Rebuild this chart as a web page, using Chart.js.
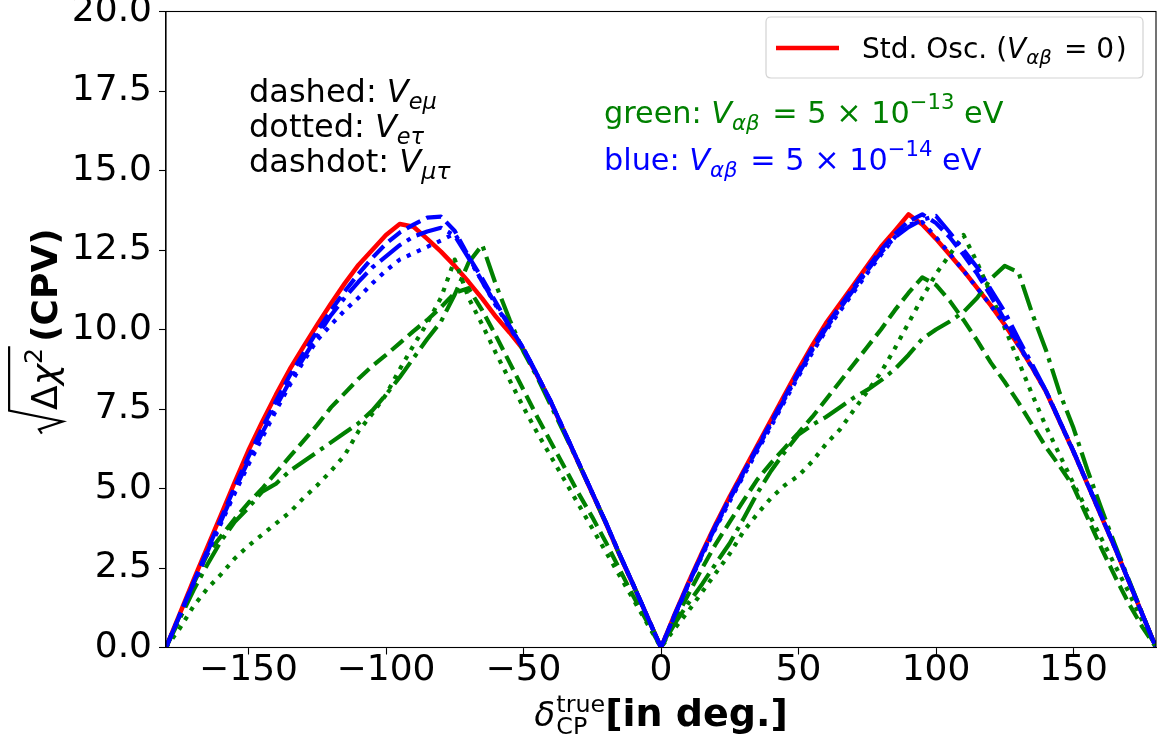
<!DOCTYPE html>
<html><head><meta charset="utf-8">
<script src="https://cdn.jsdelivr.net/npm/chart.js@4/dist/chart.umd.min.js"></script>
<style>html,body{margin:0;padding:0;background:#fff}#wrap{width:1163px;height:740px;position:relative}</style>
</head><body><div id="wrap"><canvas id="c"></canvas></div>
<script>
const deltaCP = [-180,-175,-170,-165,-160,-155,-150,-145,-140,-135,-130,-125,-120,-115,-110,-105,-100,-95,-90,-85,-80,-75,-70,-65,-60,-55,-50,-45,-40,-35,-30,-25,-20,-15,-10,-5,0,
5,10,15,20,25,30,35,40,45,50,55,60,65,70,75,80,85,90,95,100,105,110,115,120,125,130,135,140,145,150,155,160,165,170,175,180];

const stdOsc = [0,1.06,2.12,3.15,4.17,5.2,6.2,7.1,7.95,8.75,9.46,10.15,10.82,11.45,12.03,12.5,12.97,13.32,13.23,12.85,12.45,12.0,11.5,10.97,10.4,9.9,9.36,8.55,7.7,6.75,5.8,4.85,3.9,2.9,1.95,0.97,0,
1.05,2.05,3.0,3.9,4.75,5.55,6.35,7.15,7.95,8.75,9.5,10.2,10.8,11.4,12.0,12.6,13.1,13.62,13.3,12.85,12.35,11.85,11.3,10.75,10.15,9.5,8.8,8.05,7.1,6.15,5.15,4.15,3.15,2.1,1.05,0];

// green: V = 5e-13 eV
const emuGreen = [0,1.0,2.0,2.93,3.5,4.05,4.55,5.0,5.5,6.0,6.5,7.0,7.55,8.0,8.45,8.85,9.2,9.57,9.95,10.3,10.7,11.15,11.3,10.6,9.8,8.95,8.1,7.25,6.45,5.65,4.85,4.1,3.3,2.45,1.6,0.8,0,
0.85,1.68,2.5,3.27,3.95,4.62,5.28,5.8,6.28,6.75,7.25,7.8,8.35,8.9,9.45,10.0,10.6,11.15,11.64,11.4,10.9,10.3,9.65,8.95,8.35,7.7,7.0,6.3,5.7,5.05,4.1,3.15,2.25,1.4,0.65,0];
const etauGreen = [0,0.6,1.3,1.85,2.3,2.8,3.2,3.55,3.9,4.25,4.7,5.1,5.55,6.05,6.8,7.35,7.95,8.75,9.5,10.2,11.0,12.2,11.0,10.15,9.25,8.4,7.55,6.75,6.0,5.25,4.5,3.75,3.0,2.25,1.5,0.75,0,
0.6,1.15,1.75,2.35,2.95,3.65,4.2,4.7,5.1,5.4,5.85,6.4,6.85,7.45,8.05,8.65,9.4,10.2,11.0,11.75,12.35,12.97,12.1,11.1,10.05,9.0,7.95,6.95,6.05,5.15,4.3,3.45,2.6,1.75,0.85,0];
const mutauGreen = [0,0.9,1.8,2.6,3.35,3.95,4.4,4.9,5.15,5.55,5.85,6.15,6.45,6.75,7.05,7.45,7.95,8.5,9.1,9.7,10.25,11.1,12.1,12.66,11.4,10.3,9.3,8.5,7.6,6.7,5.8,4.85,3.9,2.9,1.95,0.97,0,
0.75,1.4,2.0,2.65,3.28,4.05,4.85,5.55,6.15,6.7,7.0,7.25,7.55,7.85,8.1,8.4,8.75,9.2,9.7,10.0,10.25,10.55,11.0,11.6,12.0,11.8,10.5,9.35,8.0,6.9,5.6,4.4,3.25,2.15,1.07,0];

// blue: V = 5e-14 eV
const emuBlue = [0,1.02,2.05,3.05,4.05,5.05,6.0,6.9,7.75,8.55,9.25,9.95,10.6,11.2,11.75,12.25,12.7,13.05,13.3,13.52,13.55,13.1,12.3,11.6,10.85,10.1,9.4,8.57,7.72,6.77,5.82,4.87,3.92,2.92,1.96,0.98,0,
1.03,2.02,2.96,3.86,4.7,5.5,6.3,7.08,7.88,8.67,9.42,10.1,10.72,11.32,11.92,12.5,13.0,13.4,13.62,13.35,12.9,12.35,11.75,11.05,10.3,9.55,8.82,8.07,7.12,6.17,5.17,4.17,3.16,2.11,1.05,0];
const etauBlue = [0,1.0,2.0,2.95,3.9,4.85,5.75,6.6,7.45,8.25,9.0,9.67,10.15,10.6,11.0,11.45,11.85,12.2,12.4,12.6,12.8,13.02,12.3,11.5,10.75,10.05,9.4,8.57,7.72,6.77,5.82,4.87,3.92,2.92,1.96,0.98,0,
1.0,1.97,2.9,3.78,4.6,5.4,6.18,6.95,7.75,8.53,9.27,9.97,10.57,11.17,11.77,12.35,12.9,13.3,13.38,12.9,12.38,11.85,11.3,10.75,10.15,9.5,8.8,8.05,7.1,6.15,5.15,4.15,3.15,2.1,1.05,0];
const mutauBlue = [0,1.02,2.02,3.0,3.97,4.95,5.88,6.75,7.57,8.37,9.1,9.8,10.45,11.0,11.5,11.95,12.3,12.65,12.92,13.08,13.2,12.95,12.25,11.5,10.78,10.08,9.4,8.57,7.72,6.77,5.82,4.87,3.92,2.92,1.96,0.98,0,
1.03,2.0,2.94,3.83,4.66,5.46,6.25,7.02,7.82,8.6,9.35,10.03,10.65,11.25,11.85,12.42,12.9,13.22,13.45,13.57,13.05,12.5,11.95,11.25,10.55,9.7,8.9,8.07,7.12,6.17,5.17,4.17,3.16,2.11,1.05,0];

const xTicks = [-150,-100,-50,0,50,100,150];
const yTicks = [0,2.5,5,7.5,10,12.5,15,17.5,20];

const FF = '"DejaVu Sans"';
const pts = arr => deltaCP.map((x,i)=>({x:x, y:arr[i]}));
const LW = 4.2;
const DASHED = [15.5,6.7], DOTTED = [4.2,6.9], DASHDOT = [26.9,6.7,4.2,6.7];

function fnt(st, size){ return (st||'') + ' ' + size + 'px ' + FF; }
function measureRuns(ctx, runs, base){
  let x = 0, prevStart = 0, prevW = 0;
  for (const r of runs){
    const sz = base*(r.sc||1);
    ctx.font = fnt(r.st, sz);
    const w = ctx.measureText(r.t).width;
    if (r.stack){ r._x = prevStart; x = prevStart + Math.max(prevW, w); }
    else { r._x = x + (r.pre||0)*base; prevStart = r._x; prevW = w; x = r._x + w; }
    r._w = w; r._sz = sz;
  }
  return x;
}
function drawRuns(ctx, runs, x, y, base, color){
  const W = measureRuns(ctx, runs, base);
  ctx.fillStyle = color; ctx.textBaseline = 'alphabetic'; ctx.textAlign = 'left';
  for (const r of runs){
    ctx.font = fnt(r.st, r._sz);
    ctx.fillText(r.t, x + r._x, y + (r.dy||0)*base);
  }
  return W;
}

const decor = {
  id:'decor',
  afterDraw(chart){
    const ctx = chart.ctx, a = chart.chartArea;
    ctx.save();
    // frame
    ctx.strokeStyle = '#000'; ctx.lineWidth = 1.1;
    ctx.strokeRect(a.left, a.top, a.right-a.left, a.bottom-a.top);

    // legend
    const lx=766, ly=17, lw=377, lh=61, rr=5;
    ctx.beginPath();
    ctx.moveTo(lx+rr,ly); ctx.lineTo(lx+lw-rr,ly); ctx.quadraticCurveTo(lx+lw,ly,lx+lw,ly+rr);
    ctx.lineTo(lx+lw,ly+lh-rr); ctx.quadraticCurveTo(lx+lw,ly+lh,lx+lw-rr,ly+lh);
    ctx.lineTo(lx+rr,ly+lh); ctx.quadraticCurveTo(lx,ly+lh,lx,ly+lh-rr);
    ctx.lineTo(lx,ly+rr); ctx.quadraticCurveTo(lx,ly,lx+rr,ly); ctx.closePath();
    ctx.fillStyle='rgba(255,255,255,0.8)'; ctx.fill();
    ctx.strokeStyle='#d3d3d3'; ctx.lineWidth=1.2; ctx.stroke();
    ctx.beginPath(); ctx.moveTo(776,48); ctx.lineTo(839,48);
    ctx.strokeStyle='#ff0000'; ctx.lineWidth=4.5; ctx.stroke();
    drawRuns(ctx, [{t:'Std. Osc. ('},{t:'V',st:'italic'},{t:'αβ',st:'italic',sc:0.7,dy:0.22},{t:' = 0',pre:0.12},{t:')',pre:0.06}], 862, 58, 28, '#000');

    // annotations
    const af = 32;
    drawRuns(ctx, [{t:'dashed: '},{t:'V',st:'italic'},{t:'eμ',st:'italic',sc:0.7,dy:0.22}], 249, 102, af, '#000');
    drawRuns(ctx, [{t:'dotted: '},{t:'V',st:'italic'},{t:'eτ',st:'italic',sc:0.7,dy:0.22}], 249, 137, af, '#000');
    drawRuns(ctx, [{t:'dashdot: '},{t:'V',st:'italic'},{t:'μτ',st:'italic',sc:0.74,dy:0.22}], 249, 172, af, '#000');
    const valRuns = (lab, exp) => [{t:lab},{t:'V',st:'italic'},{t:'αβ',st:'italic',sc:0.7,dy:0.22},{t:' = 5 × 10',pre:0.1},{t:exp,sc:0.7,dy:-0.45},{t:' eV'}];
    drawRuns(ctx, valRuns('green: ','−13'), 604, 123, 30.3, '#008000');
    drawRuns(ctx, valRuns('blue: ','−14'), 604, 170, 30.3, '#0000ff');

    // x title
    const xr = [{t:'δ',st:'italic'},{t:'CP',sc:0.7,dy:0.24,pre:0.04},{t:'true',sc:0.7,dy:-0.42,stack:true},{t:'[in deg.]',st:'bold',sc:38/34}];
    const xw = measureRuns(ctx, xr, 34);
    drawRuns(ctx, xr, 661 - xw/2, 726, 34, '#000');

    // y title (rotated)
    const fs = 36;
    const cont = [{t:'Δ'},{t:'χ',st:'italic'},{t:'2',sc:0.7,dy:-0.42}];
    const cw = measureRuns(ctx, cont, fs);
    ctx.font = fnt('bold', fs);
    const cpvW = ctx.measureText('(CPV)').width;
    const radW = 0.66*fs;
    const W = radW + cw + 0.05*fs + 0.12*fs + cpvW;
    ctx.translate(57, 331 + W/2);
    ctx.rotate(-Math.PI/2);
    ctx.strokeStyle='#000'; ctx.lineWidth = 2.2; ctx.lineJoin='miter';
    ctx.beginPath();
    ctx.moveTo(0.0*fs, -0.42*fs); ctx.lineTo(0.12*fs, -0.50*fs);
    ctx.lineTo(0.34*fs, 0.16*fs); ctx.lineTo(radW-0.02*fs, -1.33*fs);
    ctx.lineTo(radW + cw + 0.05*fs, -1.33*fs);
    ctx.stroke();
    drawRuns(ctx, cont, radW, 0, fs, '#000');
    ctx.font = fnt('bold', fs); ctx.fillStyle='#000';
    ctx.fillText('(CPV)', radW + cw + 0.17*fs, 0);
    ctx.restore();
  }
};

const tickFont = {family:'DejaVu Sans', size:36};
new Chart(document.getElementById('c'), {
  type:'line',
  data:{datasets:[
    {label:'Std. Osc.', data:pts(stdOsc), borderColor:'#ff0000', borderWidth:4.5, order:7},
    {label:'green dashed', data:pts(emuGreen), borderColor:'#008000', borderWidth:LW, borderDash:DASHED, order:6},
    {label:'green dotted', data:pts(etauGreen), borderColor:'#008000', borderWidth:LW, borderDash:DOTTED, order:5},
    {label:'green dashdot', data:pts(mutauGreen), borderColor:'#008000', borderWidth:LW, borderDash:DASHDOT, order:4},
    {label:'blue dashed', data:pts(emuBlue), borderColor:'#0000ff', borderWidth:LW, borderDash:DASHED, order:3},
    {label:'blue dotted', data:pts(etauBlue), borderColor:'#0000ff', borderWidth:LW, borderDash:DOTTED, order:2},
    {label:'blue dashdot', data:pts(mutauBlue), borderColor:'#0000ff', borderWidth:LW, borderDash:DASHDOT, order:1}
  ]},
  options:{
    animation:false, responsive:true, maintainAspectRatio:false,
    layout:{padding:{top:11.5, right:7, bottom:0, left:0}},
    elements:{point:{radius:0}, line:{tension:0, borderJoinStyle:'round', borderCapStyle:'butt', fill:false}},
    plugins:{legend:{display:false}, tooltip:{enabled:false}},
    scales:{
      x:{type:'linear', min:-180, max:180,
        afterBuildTicks:s=>{ s.ticks = xTicks.map(v=>({value:v})); },
        afterFit:s=>{ s.height = 92.5; s.paddingLeft=0; s.paddingRight=0; },
        ticks:{font:tickFont, color:'#000', padding:-5, maxRotation:0, autoSkip:false, callback:v=>String(v).replace('-','−')},
        grid:{drawOnChartArea:false, drawTicks:true, tickLength:7, tickColor:'#000', tickWidth:1.1},
        border:{color:'#000', width:1.1}
      },
      y:{type:'linear', min:0, max:20,
        afterBuildTicks:s=>{ s.ticks = yTicks.map(v=>({value:v})); },
        afterFit:s=>{ s.width = 166; s.paddingTop=0; s.paddingBottom=0; },
        ticks:{font:tickFont, color:'#000', padding:7, autoSkip:false, callback:v=>Number(v).toFixed(1)},
        grid:{drawOnChartArea:false, drawTicks:true, tickLength:7, tickColor:'#000', tickWidth:1.1},
        border:{color:'#000', width:1.1}
      }
    }
  },
  plugins:[decor]
});
</script></body></html>
